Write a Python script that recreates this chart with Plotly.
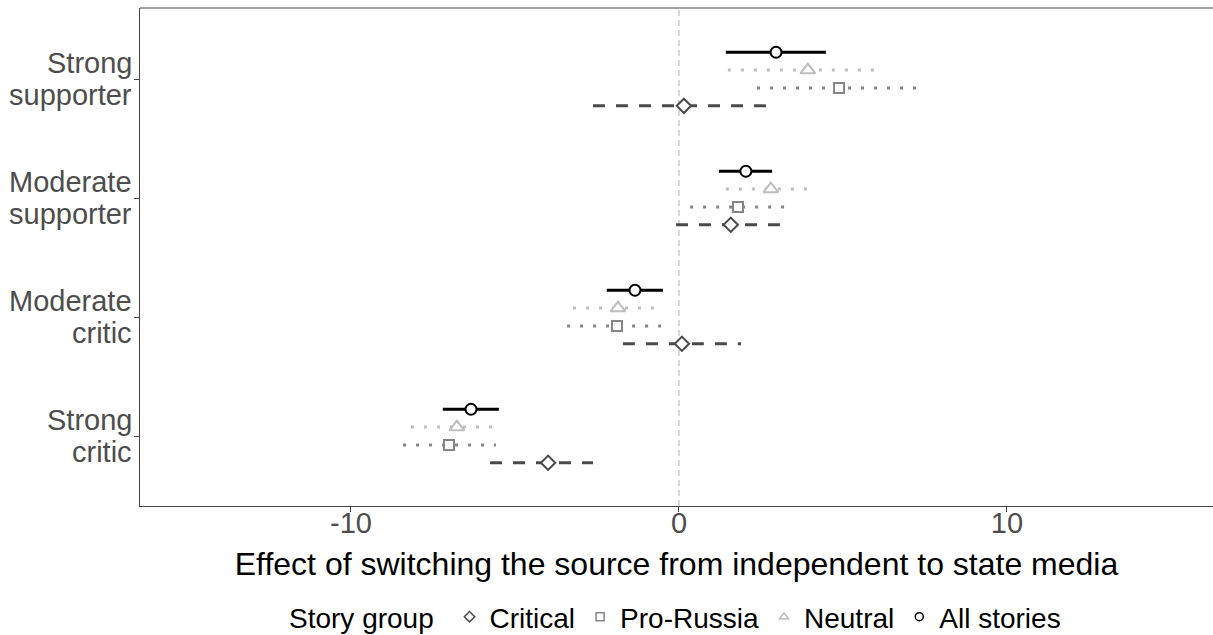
import plotly.graph_objects as go

group_lines = [("Strong", "supporter"), ("Moderate", "supporter"), ("Moderate", "critic"), ("Strong", "critic")]
group_pos = [4, 3, 2, 1]

series = ["All stories", "Neutral", "Pro-Russia", "Critical"]

est = {
    "All stories": [2.96, 2.04, -1.34, -6.34],
    "Neutral":     [3.93, 2.80, -1.86, -6.77],
    "Pro-Russia":  [4.88, 1.80, -1.89, -7.01],
    "Critical":    [0.15, 1.58, 0.09, -3.99],
}
lo = {
    "All stories": [1.43, 1.22, -2.20, -7.20],
    "Neutral":     [1.49, 1.43, -3.23, -8.17],
    "Pro-Russia":  [2.38, 0.34, -3.41, -8.41],
    "Critical":    [-2.62, -0.09, -1.71, -5.76],
}
hi = {
    "All stories": [4.48, 2.84, -0.49, -5.49],
    "Neutral":     [6.19, 3.96, -0.67, -5.61],
    "Pro-Russia":  [7.41, 3.26, -0.49, -5.58],
    "Critical":    [2.68, 3.11, 1.89, -2.62],
}

style = {
    "All stories": dict(color="#000000", dash="solid", symbol="circle", offset=0.225, size=11),
    "Neutral":     dict(color="#bdbdbd", dash="3px,10px", symbol="triangle-up", offset=0.075, size=13),
    "Pro-Russia":  dict(color="#858585", dash="3px,10px", symbol="square", offset=-0.075, size=10),
    "Critical":    dict(color="#4a4a4a", dash="12px,11px", symbol="diamond", offset=-0.225, size=11),
}

fig = go.Figure()

for s in series:
    st = style[s]
    xs, ys = [], []
    for g, p in enumerate(group_pos):
        y = p + st["offset"]
        xs += [lo[s][g], hi[s][g], None]
        ys += [y, y, None]
    fig.add_trace(go.Scatter(x=xs, y=ys, mode="lines",
                             line=dict(color=st["color"], width=3, dash=st["dash"]),
                             showlegend=False, hoverinfo="skip"))
for s in series:
    st = style[s]
    fig.add_trace(go.Scatter(x=est[s], y=[p + st["offset"] for p in group_pos], mode="markers",
                             marker=dict(symbol=st["symbol"], size=st["size"], color="white",
                                         line=dict(color=st["color"], width=2)),
                             showlegend=False))

for s in ["Critical", "Pro-Russia", "Neutral", "All stories"]:
    st = style[s]
    fig.add_trace(go.Scatter(x=[None], y=[None], mode="markers", name=s,
                             marker=dict(symbol=st["symbol"], size=8, color="white",
                                         line=dict(color=st["color"], width=1.5))))

fig.add_shape(type="line", xref="x", yref="paper", x0=0, x1=0, y0=0, y1=1,
              line=dict(color="#bdbdbd", width=1.2, dash="6px,4px"), layer="below")
fig.add_shape(type="line", xref="paper", yref="paper", x0=0, x1=1, y0=1, y1=1,
              line=dict(color="#444444", width=1.2))

for (l1, l2), p in zip(group_lines, group_pos):
    for txt, dy in ((l1, -16), (l2, 16)):
        fig.add_annotation(text=txt, xref="paper", yref="y", x=0, y=p, xanchor="right",
                           yanchor="middle", xshift=-6, yshift=-dy, showarrow=False,
                           font=dict(size=29, color="#4d4d4d"))

fig.update_layout(
    width=1213, height=635,
    margin=dict(l=140, r=0, t=8, b=129),
    plot_bgcolor="white", paper_bgcolor="white",
    font=dict(family="Liberation Sans, Arial, sans-serif", color="#000000"),
    xaxis=dict(range=[-16.43, 16.28], tickvals=[-10, 0, 10], ticktext=["-10", "0", "10"],
               showgrid=False, zeroline=False, showline=True, linecolor="#444444", linewidth=1.2,
               ticks="outside", ticklen=5, tickcolor="#444444", ticklabelstandoff=-14,
               tickfont=dict(size=29, color="#4d4d4d"),
               title=dict(text="Effect of switching the source from independent to state media",
                          font=dict(size=32, color="#000000"), standoff=14)),
    yaxis=dict(range=[0.412, 4.597], tickvals=group_pos, showticklabels=False,
               showgrid=False, zeroline=False, showline=True, linecolor="#444444", linewidth=1.2,
               ticks="outside", ticklen=5, tickcolor="#444444"),
    legend=dict(orientation="h", x=0.5, xanchor="center", xref="paper",
                y=1 - 617/635, yref="container", yanchor="middle",
                title=dict(text="Story group ", font=dict(size=28, color="#000000")),
                font=dict(size=28, color="#000000"), itemwidth=30,
                bgcolor="rgba(0,0,0,0)"),
)

fig.write_html("out.html")
